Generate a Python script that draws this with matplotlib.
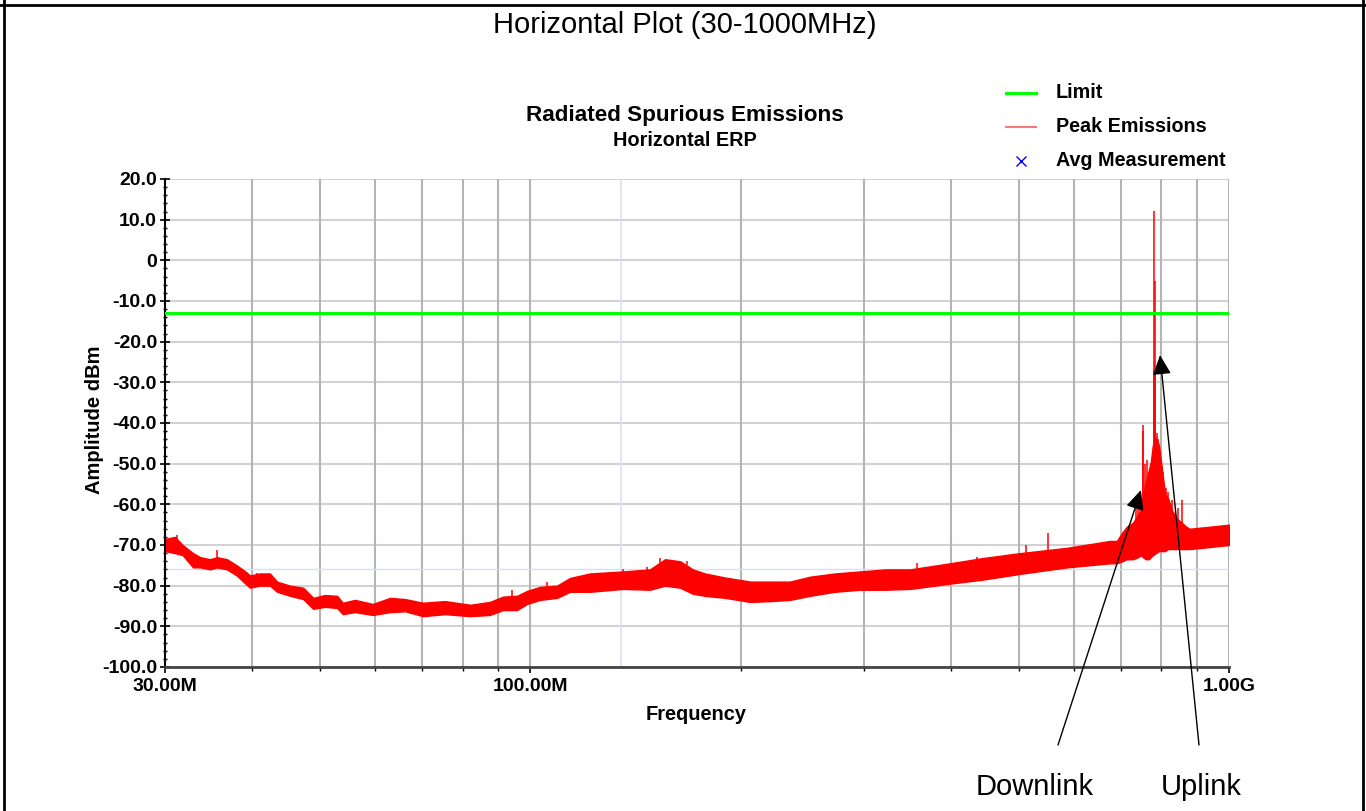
import matplotlib
matplotlib.use('Agg')
import matplotlib.pyplot as plt
from matplotlib.lines import Line2D
from matplotlib.ticker import FixedLocator, NullFormatter

plt.rcParams['font.family'] = ['Liberation Sans', 'DejaVu Sans']

# ---------------- data ----------------
title_top = "Horizontal Plot (30-1000MHz)"
chart_title = "Radiated Spurious Emissions"
chart_subtitle = "Horizontal ERP"
x_label = "Frequency"
y_label = "Amplitude dBm"
legend_labels = ["Limit", "Peak Emissions", "Avg Measurement"]
annot_labels = ["Downlink", "Uplink"]

limit_dbm = -13.0
ref_level_dbm = -76.0
ref_freq_mhz = 135.0

# Peak emission trace, read as a noise band (lower / upper edge)
band_freq = [30.0, 31.0, 31.8, 32.9, 33.7, 34.8, 35.6, 36.8, 38.0, 39.1, 39.7, 41.0,
             42.4, 43.4, 45.3, 47.3, 48.9, 50.8, 52.9, 53.9, 56.1, 59.5, 63.0, 66.2,
             70.2, 75.5, 82.0, 87.5, 91.4, 95.7, 98.9, 103.2, 109.2, 114.0, 121.8,
             135.7, 148.3, 155.9, 163.8, 170.9, 177.8, 190.0, 206.3, 220.3, 235.3,
             251.3, 272.9, 296.4, 321.8, 349.5, 398.8, 444.7, 502.1, 586.3, 675.5,
             691.0, 703.0, 714.0, 729.0, 741.0, 748.0, 753.0, 760.0, 768.0, 773.0,
             778.0, 786.0, 794.0, 802.0, 810.0, 818.0, 829.0, 842.0, 856.0, 868.0,
             879.0, 939.0, 1000.0]
band_low = [-71.5, -72.0, -72.5, -75.5, -75.5, -76.0, -75.5, -76.0, -77.5, -79.5, -80.5, -80.0,
            -80.0, -81.5, -82.5, -83.3, -85.7, -85.2, -85.5, -87.0, -86.5, -87.2, -86.5, -86.3,
            -87.5, -87.0, -87.5, -87.2, -86.0, -86.0, -84.5, -83.5, -83.0, -81.5, -81.5,
            -80.8, -81.0, -80.0, -80.5, -82.0, -82.5, -83.0, -84.0, -83.8, -83.5,
            -82.5, -81.5, -81.0, -81.0, -80.8, -79.5, -78.5, -77.1, -75.5, -74.5,
            -74.5, -74.0, -73.5, -73.5, -73.0, -72.5, -73.0, -73.5, -73.5, -73.0,
            -72.5, -72.0, -71.5, -71.5, -71.5, -71.0, -71.0, -71.0, -71.0, -71.0,
            -71.0, -70.5, -70.0]
band_high = [-68.5, -68.0, -70.0, -72.0, -73.0, -73.5, -73.0, -73.5, -75.0, -76.5, -77.5, -77.0,
             -77.0, -79.0, -80.0, -80.5, -83.0, -82.3, -82.5, -84.2, -83.5, -84.5, -83.0, -83.3,
             -84.2, -83.8, -84.7, -84.0, -82.7, -82.5, -81.3, -80.3, -80.0, -78.1, -77.0,
             -76.5, -76.0, -73.5, -74.0, -76.0, -77.0, -78.0, -79.0, -79.0, -79.0,
             -77.8, -77.0, -76.5, -76.0, -76.0, -74.5, -73.2, -72.0, -70.7, -69.0,
             -69.0, -67.0, -65.5, -64.5, -62.5, -61.5, -57.5, -54.5, -51.5, -49.5,
             -45.5, -43.5, -45.5, -51.5, -57.5, -58.5, -61.5, -63.5, -64.5, -65.5,
             -66.0, -65.5, -65.0]

# Isolated spikes of the peak trace
spike_freq = [31.2, 35.6, 40.6, 94.1, 105.6, 135.5, 146.9, 153.3, 157.4, 167.6, 357.7,
              436.0, 512.2, 550.7, 720.0, 735.0, 742.0, 746.0, 752.0, 754.0, 757.0, 764.0,
              780.0, 781.6, 783.0, 784.5, 789.0, 792.0, 800.0, 804.0, 812.0, 818.0, 830.0,
              845.0, 856.0]
spike_base = [-70.0, -74.0, -79.0, -83.0, -81.0, -77.0, -77.0, -76.0, -75.0, -75.0, -77.0,
              -75.0, -73.0, -72.0, -68.0, -66.0, -64.0, -63.0, -60.0, -58.0, -56.0, -54.0,
              -48.0, -47.0, -46.0, -45.0, -44.0, -46.0, -52.0, -55.0, -58.0, -59.0, -62.0,
              -64.0, -65.0]
spike_top = [-67.5, -71.2, -77.0, -81.0, -79.0, -75.8, -75.3, -73.3, -73.9, -74.0, -74.4,
             -73.0, -70.0, -67.0, -65.0, -61.0, -59.0, -59.5, -40.5, -42.0, -50.0, -49.0,
             -27.0, 12.2, -5.0, -27.0, -42.5, -44.0, -49.6, -52.0, -56.0, -57.0, -59.0,
             -61.0, -59.0]

# Average measurements (none shown)
avg_freq = []
avg_dbm = []

# Arrow targets (data coords)
arrow_freq = [748.0, 796.6]
arrow_dbm = [-56.5, -23.3]

ytick_vals = [20, 10, 0, -10, -20, -30, -40, -50, -60, -70, -80, -90, -100]
ytick_labels = ["20.0", "10.0", "0", "-10.0", "-20.0", "-30.0", "-40.0", "-50.0",
                "-60.0", "-70.0", "-80.0", "-90.0", "-100.0"]
xtick_vals = [30, 100, 1000]
xtick_labels = ["30.00M", "100.00M", "1.00G"]
xminor_vals = [40, 50, 60, 70, 80, 90, 200, 300, 400, 500, 600, 700, 800, 900]

# ---------------- figure ----------------
W, H = 1366, 811
fig = plt.figure(figsize=(W / 100, H / 100), dpi=100)
fig.patch.set_facecolor('white')

def fx(px):
    return px / W

def fy(py):
    return 1 - py / H

ax = fig.add_axes([fx(165), fy(667), fx(1229) - fx(165), fy(179) - fy(667)])
ax.set_xscale('log')
ax.set_xlim(30, 1000)
ax.set_ylim(-100, 20)

# grid
for v in ytick_vals:
    ax.axhline(v, color='#d2d2d2', lw=1.5, zorder=0.5)
for v in xminor_vals + [100, 1000]:
    ax.axvline(v, color='#b4b4b4', lw=1.5, zorder=0.6)
ax.axhline(ref_level_dbm, color='#d3e3f6', lw=1.0, zorder=0.7)
ax.axvline(ref_freq_mhz, color='#d3e3f6', lw=1.2, zorder=0.7)

# limit line
ax.axhline(limit_dbm, color='#00ff00', lw=2.2, zorder=3)

# peak trace
ax.fill_between(band_freq, band_low, band_high, color='#ff0000', lw=1.0,
                edgecolor='#ff0000', zorder=2)
ax.vlines(spike_freq, spike_base, spike_top, color='#ff0000', lw=1.1, zorder=2)
ax.plot(avg_freq, avg_dbm, 'x', color='blue')

# ticks
ax.yaxis.set_major_locator(FixedLocator(ytick_vals))
ax.set_yticklabels(ytick_labels)
ax.yaxis.set_minor_locator(FixedLocator([v for v in range(-100, 21, 2) if v % 10 != 0]))
ax.xaxis.set_major_locator(FixedLocator(xtick_vals))
ax.set_xticklabels(xtick_labels)
ax.xaxis.set_minor_locator(FixedLocator(xminor_vals))
ax.xaxis.set_minor_formatter(NullFormatter())

ax.tick_params(axis='y', which='major', direction='inout', length=6.5, width=1.2,
               pad=2.5, labelsize=14, colors='black')
ax.tick_params(axis='y', which='minor', direction='inout', length=3.5, width=1.0)
ax.tick_params(axis='x', which='major', direction='out', length=4, width=1.2,
               pad=4, labelsize=14)
ax.tick_params(axis='x', which='minor', direction='out', length=3, width=1.0)
for lab in ax.get_yticklabels() + ax.get_xticklabels():
    lab.set_fontweight('bold')

for s in ['top', 'right']:
    ax.spines[s].set_visible(False)
ax.spines['left'].set_color('black')
ax.spines['left'].set_linewidth(1.5)
ax.spines['bottom'].set_color('#444444')
ax.spines['bottom'].set_linewidth(2)

# labels & titles
fig.text(fx(696), fy(714), x_label, ha='center', va='center', fontsize=14.4, fontweight='bold')
fig.text(fx(94), fy(420), y_label, ha='center', va='center', rotation=90,
         fontsize=14.5, fontweight='bold')
fig.text(fx(685), fy(115), chart_title, ha='center', va='center', fontsize=16.2,
         fontweight='bold')
fig.text(fx(685), fy(141), chart_subtitle, ha='center', va='center', fontsize=14.3,
         fontweight='bold')
fig.text(fx(685), fy(25), title_top, ha='center', va='center', fontsize=21)

# legend (manual)
leg_y = [93, 127, 161]
fig.add_artist(Line2D([fx(1006), fx(1036)], [fy(leg_y[0])] * 2, color='#00ff00', lw=2.2))
fig.add_artist(Line2D([fx(1006), fx(1036)], [fy(leg_y[1])] * 2, color='#f47a7a', lw=1.5))
fig.add_artist(Line2D([fx(1021)], [fy(leg_y[2])], marker='x', color='blue',
                      markersize=7, mew=1.0, lw=0))
for lbl, yy in zip(legend_labels, leg_y):
    fig.text(fx(1056), fy(yy), lbl, ha='left', va='center', fontsize=14.2, fontweight='bold')

# annotations
tails = [(1058, H - 745), (1199, H - 745)]
for f, d, t in zip(arrow_freq, arrow_dbm, tails):
    ax.annotate('', xy=(f, d), xycoords='data', xytext=t, textcoords='figure pixels',
                annotation_clip=False,
                arrowprops=dict(arrowstyle='-|>,head_length=0.6,head_width=0.28',
                                mutation_scale=20, color='black', lw=1.0,
                                shrinkA=0, shrinkB=0))
fig.text(fx(1035), fy(787), annot_labels[0], ha='center', va='center', fontsize=21)
fig.text(fx(1201), fy(787), annot_labels[1], ha='center', va='center', fontsize=21)

# page border
fig.add_artist(Line2D([fx(4), fx(4)], [0, 1], color='black', lw=2))
fig.add_artist(Line2D([fx(1363), fx(1363)], [0, 1], color='black', lw=2))
fig.add_artist(Line2D([0, 1], [fy(5), fy(5)], color='black', lw=2))

fig.savefig('out.png', dpi=100)
